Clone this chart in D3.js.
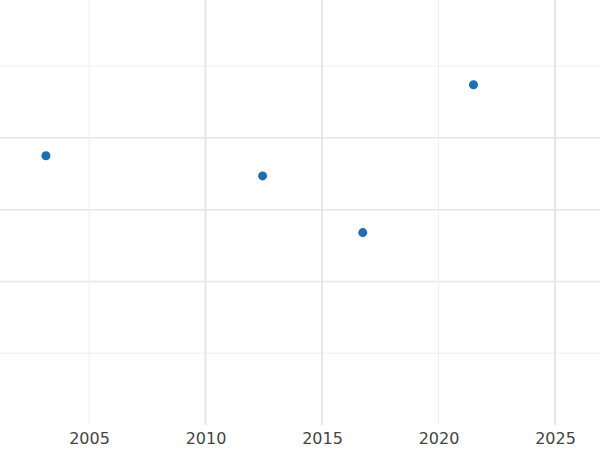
<!DOCTYPE html>
<html>
<head>
<meta charset="utf-8">
<script src="https://cdn.jsdelivr.net/npm/d3@7"></script>
<style>
  body { margin: 0; background: #fff; }
  text { font-family: "DejaVu Sans", sans-serif; }
</style>
</head>
<body>
<svg id="chart" width="600" height="450"></svg>
<script>
// data
var years = [2003.15, 2012.45, 2016.75, 2021.5];
var values = [3.75, 3.47, 2.68, 4.74];
var xTicks = [2005, 2010, 2015, 2020, 2025];
var yGrid = [1, 2, 3, 4, 5];

var width = 600, plotBottom = 425;
var svg = d3.select("#chart");

var x = d3.scaleLinear().domain([2001.18, 2026.93]).range([0, width]);
var y = d3.scaleLinear().domain([0, 5.92]).range([plotBottom, 0]);

// horizontal grid
svg.selectAll(".hgrid")
    .data(yGrid)
    .enter().append("line")
    .attr("x1", 0).attr("x2", width)
    .attr("y1", function (d) { return y(d); })
    .attr("y2", function (d) { return y(d); })
    .attr("stroke", function (d) { return (d == 1 || d == 5) ? "#efefef" : "#e6e6e6"; })
    .attr("stroke-width", function (d) { return (d == 1 || d == 5) ? 1 : 1.5; });

// vertical grid
svg.selectAll(".vgrid")
    .data(xTicks)
    .enter().append("line")
    .attr("y1", 0).attr("y2", plotBottom)
    .attr("x1", function (d) { return x(d); })
    .attr("x2", function (d) { return x(d); })
    .attr("stroke", function (d) { return (d == 2005 || d == 2020) ? "#efefef" : "#e6e6e6"; })
    .attr("stroke-width", function (d) { return (d == 2005 || d == 2020) ? 1 : 2; });

// x axis labels
var xAxis = d3.axisBottom(x).tickValues(xTicks).tickFormat(d3.format("d")).tickSize(0).tickPadding(8);
var gx = svg.append("g").attr("transform", "translate(0," + plotBottom + ")").call(xAxis);
gx.select(".domain").remove();
gx.selectAll("text").attr("font-size", 16).attr("fill", "#444").style("font-family", "DejaVu Sans, sans-serif");

// points
svg.selectAll(".pt")
    .data(years)
    .enter().append("circle")
    .attr("cx", function (d) { return x(d); })
    .attr("cy", function (d, i) { return y(values[i]); })
    .attr("r", 4.5)
    .attr("fill", "#1f6fb0");
</script>
</body>
</html>
